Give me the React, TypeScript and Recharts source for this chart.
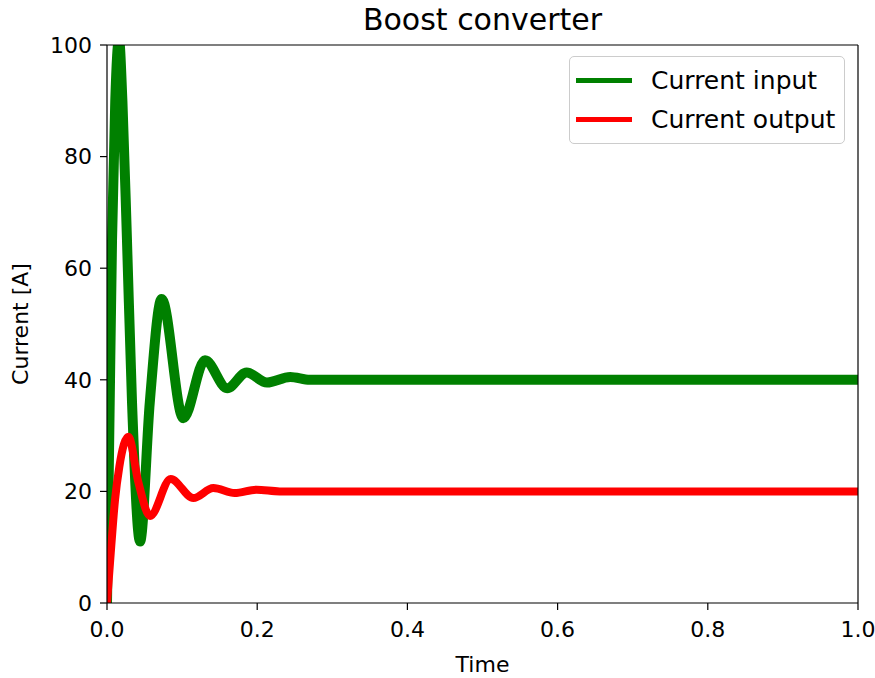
import { LineChart, Line, XAxis, YAxis, ReferenceLine, ResponsiveContainer } from "recharts";

// (time in s, current in A)
const inputTime = [0, 0.0036, 0.0067, 0.011, 0.016, 0.0205, 0.0266, 0.0333, 0.044, 0.057, 0.0728, 0.1016, 0.1305, 0.16, 0.186, 0.213, 0.244, 0.27, 0.3, 1.0];
const inputCurrent = [0, 36, 65, 90, 101, 90, 65, 36, 11, 36, 54.5, 33.1, 43.5, 38.5, 41.3, 39.5, 40.5, 40, 40, 40];

const outputTime = [0, 0.005, 0.0107, 0.0164, 0.0284, 0.042, 0.0573, 0.0848, 0.115, 0.1416, 0.17, 0.199, 0.23, 1.0];
const outputCurrent = [0, 9, 18.5, 24.4, 29.8, 21.5, 15.6, 22.2, 18.8, 20.6, 19.7, 20.3, 20, 20];

const xTicks = [0, 0.2, 0.4, 0.6, 0.8, 1.0];
const yTicks = [0, 20, 40, 60, 80, 100];

const SERIES = [
  { name: "Current input", color: "#008000" },
  { name: "Current output", color: "#ff0000" },
];

const FONT = "'DejaVu Sans', sans-serif";

const inputData = inputTime.map((t, i) => ({ t, v: inputCurrent[i] }));
const outputData = outputTime.map((t, i) => ({ t, v: outputCurrent[i] }));

const tickStyle = { fill: "#000", fontSize: 22, fontFamily: FONT };
const spine = { stroke: "#000", strokeWidth: 1.2 };

export default function App() {
  return (
    <div style={{ position: "absolute", left: 0, top: 0, width: 875, height: 678, background: "#fff", fontFamily: FONT }}>
      <div
        style={{
          position: "absolute",
          left: 107,
          top: 5,
          width: 751,
          textAlign: "center",
          fontSize: 30,
          lineHeight: "30px",
          color: "#000",
        }}
      >
        Boost converter
      </div>
      <ResponsiveContainer width="100%" height="100%">
        <LineChart margin={{ top: 45, right: 17, bottom: 0, left: 0 }}>
          <XAxis
            dataKey="t"
            type="number"
            domain={[0, 1]}
            allowDataOverflow
            ticks={xTicks}
            interval={0}
            tickFormatter={(v: number) => v.toFixed(1)}
            tick={tickStyle}
            tickSize={7}
            tickMargin={11}
            height={75}
            axisLine={spine}
            tickLine={spine}
            label={{ value: "Time", position: "insideBottom", offset: 6, fill: "#000", fontSize: 22, fontFamily: FONT }}
          />
          <YAxis
            type="number"
            domain={[0, 100]}
            allowDataOverflow
            ticks={yTicks}
            interval={0}
            tick={tickStyle}
            tickSize={7}
            tickMargin={8}
            width={107}
            axisLine={spine}
            tickLine={spine}
            label={{ value: "Current [A]", angle: -90, position: "insideLeft", offset: 20, fill: "#000", fontSize: 22, fontFamily: FONT, style: { textAnchor: "middle" } }}
          />
          <Line
            data={inputData}
            dataKey="v"
            name={SERIES[0].name}
            type="monotone"
            stroke={SERIES[0].color}
            strokeWidth={10}
            strokeLinejoin="round"
            dot={false}
            isAnimationActive={false}
          />
          <Line
            data={outputData}
            dataKey="v"
            name={SERIES[1].name}
            type="monotone"
            stroke={SERIES[1].color}
            strokeWidth={8}
            strokeLinejoin="round"
            dot={false}
            isAnimationActive={false}
          />
          <ReferenceLine y={100} stroke="#000" strokeWidth={1.2} />
          <ReferenceLine x={1} stroke="#000" strokeWidth={1.2} />
        </LineChart>
      </ResponsiveContainer>
      <div
        style={{
          position: "absolute",
          left: 569,
          top: 56,
          width: 276,
          height: 88,
          border: "1px solid #cccccc",
          borderRadius: 5,
          background: "rgba(255,255,255,0.8)",
          boxSizing: "border-box",
        }}
      >
        {SERIES.map((s, i) => (
          <div key={s.name} style={{ position: "absolute", left: 6, top: 7 + i * 39, height: 32, display: "flex", alignItems: "center" }}>
            <div style={{ width: 56, height: 5, background: s.color }} />
            <span style={{ marginLeft: 19, fontSize: 25, color: "#000", whiteSpace: "nowrap" }}>{s.name}</span>
          </div>
        ))}
      </div>
    </div>
  );
}
